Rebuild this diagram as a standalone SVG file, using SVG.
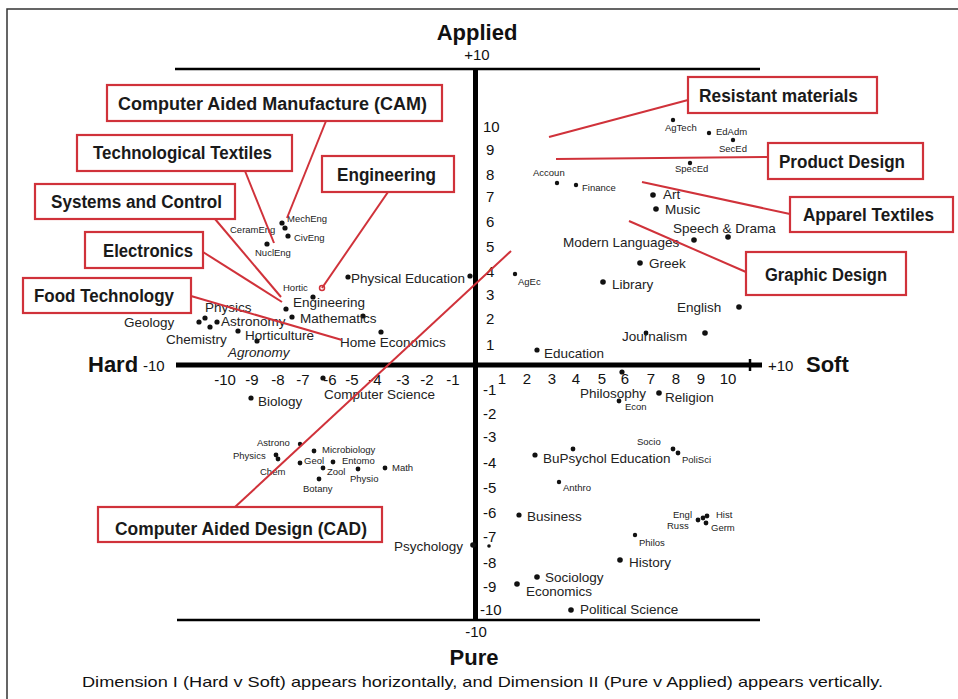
<svg xmlns="http://www.w3.org/2000/svg" width="958" height="699" viewBox="0 0 958 699">
<style>
.frame{fill:#fff;stroke:#333;stroke-width:1.5}
.axis{stroke:#000;fill:none}
.box rect{fill:#fff;stroke:#d0323a;stroke-width:2.2}
.box text{font-family:"Liberation Sans",Arial,sans-serif;font-weight:bold;font-size:18px;fill:#1a1a1a}
.conn line{stroke:#d0323a;stroke-width:2}
.title{font-family:"Liberation Sans",Arial,sans-serif;font-weight:bold;font-size:22px;fill:#111}
.num{font-family:"Liberation Sans",Arial,sans-serif;font-size:15px;fill:#111}
.lg{font-family:"Liberation Sans",Arial,sans-serif;font-size:13.5px;fill:#222}
.sm{font-family:"Liberation Sans",Arial,sans-serif;font-size:9.5px;fill:#222}
.dots circle{fill:#111}
.cap{font-family:"Liberation Sans",Arial,sans-serif;font-size:15px;fill:#111}
</style>
<rect class="frame" x="7" y="9" width="960" height="700"/>

<g id="axes">
<line class="axis" x1="175" y1="69" x2="760" y2="69" stroke-width="2.5"/>
<line class="axis" x1="177" y1="620" x2="760" y2="620" stroke-width="2.5"/>
<line class="axis" x1="475.5" y1="70" x2="475.5" y2="621" stroke-width="5"/>
<line class="axis" x1="176" y1="365" x2="762" y2="365" stroke-width="5"/>
<line class="axis" x1="750" y1="359" x2="750" y2="371" stroke-width="2.5"/>
</g>

<g id="titles">
<text class="title" x="477" y="40" text-anchor="middle">Applied</text>
<text class="num" x="477" y="60" text-anchor="middle">+10</text>
<text class="title" x="88" y="372">Hard</text>
<text class="num" x="143" y="371" font-size="16">-10</text>
<text class="num" x="768" y="371" font-size="16">+10</text>
<text class="title" x="806" y="372">Soft</text>
<text class="num" x="476" y="637" text-anchor="middle">-10</text>
<text class="title" x="474" y="665" text-anchor="middle">Pure</text>
<text class="cap" x="82" y="687" textLength="801" lengthAdjust="spacingAndGlyphs">Dimension I (Hard v Soft) appears horizontally, and Dimension II (Pure v Applied) appears vertically.</text>
</g>

<g id="ticks" class="num" text-anchor="middle">
<text x="225" y="385">-10</text><text x="252" y="385">-9</text><text x="278" y="385">-8</text><text x="303" y="385">-7</text><text x="330" y="385">-6</text><text x="352" y="385">-5</text><text x="375" y="385">-4</text><text x="403" y="385">-3</text><text x="427" y="385">-2</text><text x="453" y="385">-1</text>
<text x="502" y="384">1</text><text x="527" y="384">2</text><text x="552" y="384">3</text><text x="576" y="384">4</text><text x="602" y="384">5</text><text x="625" y="384">6</text><text x="651" y="384">7</text><text x="676" y="384">8</text><text x="701" y="384">9</text><text x="728" y="384">10</text>
</g>
<g id="vticks" class="num">
<text x="483" y="132">10</text><text x="486" y="155">9</text><text x="486" y="180">8</text><text x="486" y="202">7</text><text x="486" y="227">6</text><text x="486" y="252">5</text><text x="486" y="277">4</text><text x="486" y="300">3</text><text x="486" y="324">2</text><text x="486" y="350">1</text>
<text x="483" y="395">-1</text><text x="483" y="419">-2</text><text x="483" y="442">-3</text><text x="483" y="468">-4</text><text x="483" y="493">-5</text><text x="483" y="518">-6</text><text x="483" y="542">-7</text><text x="483" y="568">-8</text><text x="483" y="592">-9</text><text x="480" y="615">-10</text>
</g>

<g id="points" class="dots">
<circle cx="282" cy="223" r="2.6"/><circle cx="285" cy="228" r="2.6"/><circle cx="288" cy="236" r="2.6"/><circle cx="267" cy="244" r="2.6"/>
<circle cx="313" cy="297" r="2.6"/><circle cx="286" cy="309" r="2.6"/><circle cx="292" cy="317" r="2.6"/><circle cx="363" cy="316" r="2.6"/>
<circle cx="199" cy="322" r="2.6"/><circle cx="205" cy="318" r="2.6"/><circle cx="210" cy="327" r="2.6"/><circle cx="217" cy="322" r="2.6"/>
<circle cx="238" cy="331" r="2.6"/><circle cx="381" cy="332" r="2.6"/><circle cx="257" cy="341" r="2.6"/><circle cx="470" cy="276" r="2.6"/><circle cx="348" cy="277" r="2.6"/>
<circle cx="673" cy="120" r="2.2"/><circle cx="709" cy="133" r="2.2"/><circle cx="733" cy="140" r="2.2"/><circle cx="690" cy="163" r="2.2"/>
<circle cx="557" cy="183" r="2.2"/><circle cx="576" cy="185" r="2.2"/><circle cx="653" cy="195" r="2.8"/><circle cx="656" cy="209" r="2.8"/>
<circle cx="728" cy="237" r="2.8"/><circle cx="694" cy="240" r="2.8"/><circle cx="640" cy="263" r="2.8"/><circle cx="515" cy="274" r="2.2"/>
<circle cx="603" cy="282" r="2.8"/><circle cx="739" cy="307" r="2.8"/><circle cx="705" cy="333" r="2.8"/><circle cx="646" cy="333" r="2.4"/>
<circle cx="537" cy="350" r="2.6"/><circle cx="622" cy="372" r="2.6"/><circle cx="619" cy="401" r="2.4"/><circle cx="659" cy="393" r="2.8"/>
<circle cx="251" cy="398" r="2.6"/><circle cx="323" cy="378" r="2.6"/><circle cx="300" cy="444" r="2.2"/><circle cx="276" cy="455" r="2.4"/><circle cx="278" cy="459" r="2.4"/>
<circle cx="314" cy="451" r="2.4"/><circle cx="300" cy="463" r="2.4"/><circle cx="333" cy="462" r="2.4"/><circle cx="323" cy="468" r="2.4"/>
<circle cx="358" cy="469" r="2.4"/><circle cx="385" cy="468" r="2.4"/><circle cx="319" cy="479" r="2.4"/><circle cx="473" cy="545" r="2.8"/>
<circle cx="673" cy="449" r="2.4"/><circle cx="678" cy="453" r="2.4"/><circle cx="535" cy="455" r="2.6"/><circle cx="573" cy="449" r="2.4"/>
<circle cx="559" cy="482" r="2.2"/><circle cx="519" cy="515" r="2.6"/><circle cx="698" cy="520" r="2.4"/><circle cx="703" cy="518" r="2.4"/>
<circle cx="707" cy="516" r="2.4"/><circle cx="706" cy="523" r="2.4"/><circle cx="635" cy="535" r="2.2"/><circle cx="620" cy="560" r="2.8"/>
<circle cx="537" cy="577" r="2.8"/><circle cx="517" cy="584" r="2.8"/><circle cx="571" cy="610" r="2.8"/><circle cx="489" cy="546" r="1.8"/>
</g>

<g id="labels">
<text class="sm" x="287" y="222">MechEng</text>
<text class="sm" x="230" y="233">CeramEng</text>
<text class="sm" x="294" y="241">CivEng</text>
<text class="sm" x="255" y="256">NuclEng</text>
<text class="sm" x="283" y="291">Hortic</text>
<text class="lg" x="351" y="283">Physical Education</text>
<text class="lg" x="293" y="307">Engineering</text>
<text class="lg" x="300" y="323">Mathematics</text>
<text class="lg" x="205" y="312" font-size="13">Physics</text>
<text class="lg" x="124" y="327" font-size="13">Geology</text>
<text class="lg" x="221" y="326" font-size="13">Astronomy</text>
<text class="lg" x="245" y="340" font-size="13">Horticulture</text>
<text class="lg" x="340" y="347">Home Economics</text>
<text class="lg" x="166" y="344" font-size="13">Chemistry</text>
<text class="lg" x="228" y="357" font-style="italic" font-size="13">Agronomy</text>

<text class="sm" x="665" y="131">AgTech</text>
<text class="sm" x="716" y="135">EdAdm</text>
<text class="sm" x="719" y="152">SecEd</text>
<text class="sm" x="675" y="172">SpecEd</text>
<text class="sm" x="533" y="176">Accoun</text>
<text class="sm" x="582" y="191">Finance</text>
<text class="lg" x="663" y="199">Art</text>
<text class="lg" x="665" y="214">Music</text>
<text class="lg" x="673" y="233">Speech &amp; Drama</text>
<text class="lg" x="563" y="247">Modern Languages</text>
<text class="lg" x="649" y="268">Greek</text>
<text class="sm" x="518" y="285">AgEc</text>
<text class="lg" x="612" y="289">Library</text>
<text class="lg" x="677" y="312">English</text>
<text class="lg" x="622" y="341">Journalism</text>
<text class="lg" x="544" y="358">Education</text>

<text class="lg" x="580" y="398">Philosophy</text>
<text class="sm" x="625" y="410">Econ</text>
<text class="lg" x="665" y="402">Religion</text>

<text class="lg" x="258" y="406">Biology</text>
<text class="lg" x="324" y="399">Computer Science</text>
<text class="sm" x="257" y="446">Astrono</text>
<text class="sm" x="233" y="459">Physics</text>
<text class="sm" x="260" y="475">Chem</text>
<text class="sm" x="322" y="453">Microbiology</text>
<text class="sm" x="304" y="464">Geol</text>
<text class="sm" x="342" y="464">Entomo</text>
<text class="sm" x="327" y="475">Zool</text>
<text class="sm" x="350" y="482">Physio</text>
<text class="sm" x="392" y="471">Math</text>
<text class="sm" x="303" y="492">Botany</text>
<text class="lg" x="394" y="551" font-size="12.5">Psychology</text>

<text class="sm" x="637" y="445">Socio</text>
<text class="sm" x="682" y="463">PoliSci</text>
<text class="lg" x="543" y="463">BuPsychol Education</text>
<text class="sm" x="563" y="491">Anthro</text>
<text class="lg" x="527" y="521">Business</text>
<text class="sm" x="673" y="518">Engl</text>
<text class="sm" x="667" y="529">Russ</text>
<text class="sm" x="716" y="518">Hist</text>
<text class="sm" x="711" y="531">Germ</text>
<text class="sm" x="639" y="546">Philos</text>
<text class="lg" x="629" y="567">History</text>
<text class="lg" x="545" y="582">Sociology</text>
<text class="lg" x="526" y="596">Economics</text>
<text class="lg" x="580" y="614">Political Science</text>
</g>

<g id="connectors" class="conn">
<line x1="326" y1="121" x2="287" y2="218"/>
<line x1="245" y1="171" x2="274" y2="243"/>
<line x1="388" y1="192" x2="322" y2="288"/>
<line x1="215" y1="219" x2="281" y2="297"/>
<line x1="203" y1="252" x2="282" y2="302"/>
<line x1="191" y1="296" x2="342" y2="340"/>
<line x1="235" y1="507" x2="511" y2="251"/>
<line x1="688" y1="100" x2="549" y2="137"/>
<line x1="768" y1="157" x2="556" y2="159"/>
<line x1="790" y1="214" x2="642" y2="182"/>
<line x1="746" y1="272" x2="629" y2="221"/>
<circle cx="322" cy="288" r="2.5" fill="none" stroke="#d0323a" stroke-width="1.5"/>
</g>

<g id="cam" class="box"><rect x="107" y="85" width="335" height="36"/><text x="118" y="110" textLength="309" lengthAdjust="spacingAndGlyphs">Computer Aided Manufacture (CAM)</text></g>
<g id="tech-textiles" class="box"><rect x="77" y="135" width="215" height="36"/><text x="93" y="159" textLength="179" lengthAdjust="spacingAndGlyphs">Technological Textiles</text></g>
<g id="engineering" class="box"><rect x="322" y="156" width="132" height="36"/><text x="337" y="181" textLength="99" lengthAdjust="spacingAndGlyphs">Engineering</text></g>
<g id="systems" class="box"><rect x="35" y="184" width="200" height="35"/><text x="51" y="208" textLength="171" lengthAdjust="spacingAndGlyphs">Systems and Control</text></g>
<g id="electronics" class="box"><rect x="85" y="232" width="118" height="36"/><text x="103" y="257" textLength="90" lengthAdjust="spacingAndGlyphs">Electronics</text></g>
<g id="food" class="box"><rect x="23" y="278" width="168" height="35"/><text x="34" y="302" textLength="140" lengthAdjust="spacingAndGlyphs">Food Technology</text></g>
<g id="cad" class="box"><rect x="98" y="507" width="284" height="35"/><text x="115" y="535" textLength="252" lengthAdjust="spacingAndGlyphs">Computer Aided Design (CAD)</text></g>
<g id="resistant" class="box"><rect x="688" y="77" width="189" height="36"/><text x="699" y="102" textLength="159" lengthAdjust="spacingAndGlyphs">Resistant materials</text></g>
<g id="product" class="box"><rect x="768" y="143" width="155" height="36"/><text x="779" y="168" textLength="126" lengthAdjust="spacingAndGlyphs">Product Design</text></g>
<g id="apparel" class="box"><rect x="790" y="197" width="163" height="35"/><text x="803" y="221" textLength="131" lengthAdjust="spacingAndGlyphs">Apparel Textiles</text></g>
<g id="graphic" class="box"><rect x="746" y="252" width="160" height="43"/><text x="765" y="281" textLength="122" lengthAdjust="spacingAndGlyphs">Graphic Design</text></g>
</svg>
